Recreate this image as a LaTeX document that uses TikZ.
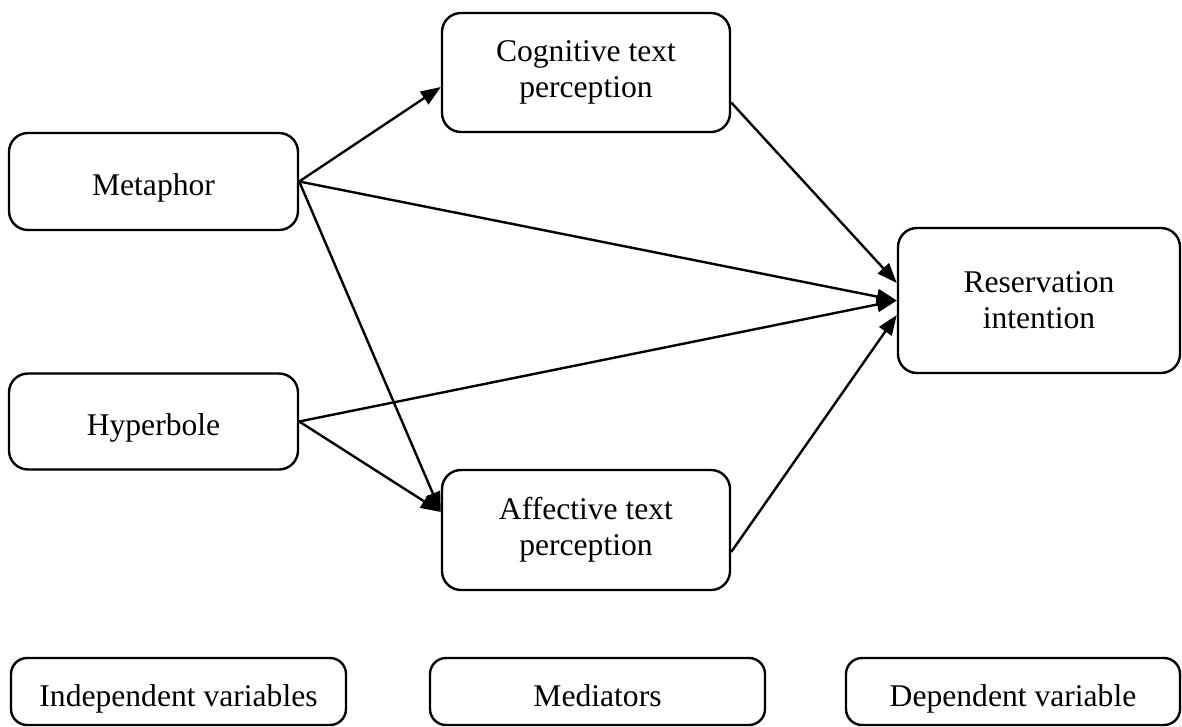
\documentclass[tikz,border=0pt]{standalone}
\usepackage{fontspec}
\setmainfont{Liberation Serif}
\usetikzlibrary{arrows.meta}
\begin{document}
\begin{tikzpicture}[x=1pt,y=-1pt,
  box/.style={draw, line width=2.4pt, rounded corners=19pt, align=center,
    inner sep=0pt, font=\fontsize{31.6}{36}\selectfont},
  onebox/.style={box, text height=28pt, text depth=0pt},
  twobox/.style={box},
  keybox/.style={box, rounded corners=16pt, minimum width=335pt, minimum height=67pt,
    text height=36pt, text depth=7pt},
  flow/.style={line width=2.4pt, -{Triangle[length=20pt,width=15pt]}}
]
\useasboundingbox (0,0) rectangle (1182,727);

% independent variables
\node[onebox, minimum width=289pt, minimum height=97pt] (meta) at (153.5,181.5) {Metaphor};
\node[onebox, minimum width=289pt, minimum height=96pt] (hyp) at (153.5,421.5) {Hyperbole};

% mediators
\node[twobox, minimum width=288pt, minimum height=119pt] (cog) at (586,72.5) {Cognitive text\\perception};
\node[twobox, minimum width=288pt, minimum height=120pt] (aff) at (586,530) {Affective text\\perception};

% dependent variable
\node[twobox, minimum width=282pt, minimum height=145pt] (res) at (1039,300.5) {Reservation\\intention};

% key row
\node[keybox] (kind) at (178.5,691.5) {Independent variables};
\node[keybox] (kmed) at (597.5,691.5) {Mediators};
\node[keybox, minimum width=334pt] (kdep) at (1013,691.5) {Dependent variable};

% paths
\draw[flow] (meta.east) -- ([yshift=-14.5pt]cog.west);
\draw[flow] (meta.east) -- (res.west);
\draw[flow] (meta.east) -- ([yshift=18pt]aff.west);
\draw[flow] (hyp.east) -- ([yshift=18pt]aff.west);
\draw[flow] (hyp.east) -- (res.west);
\draw[flow] ([yshift=-30pt]cog.east) -- ([yshift=17.5pt]res.west);
\draw[flow] ([yshift=-22pt]aff.east) -- ([yshift=-14.5pt]res.west);
\end{tikzpicture}
\end{document}
